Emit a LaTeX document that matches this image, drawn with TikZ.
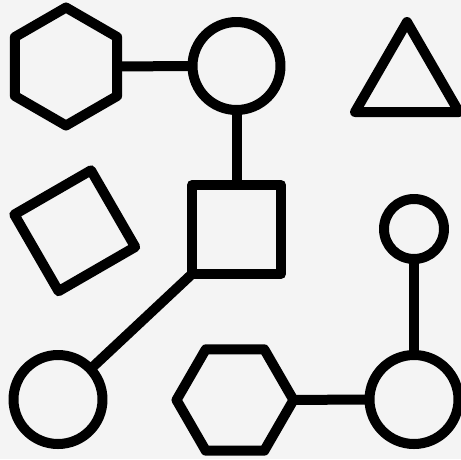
\documentclass[tikz,border=0pt]{standalone}
\usetikzlibrary{shapes.geometric}
\definecolor{bg}{HTML}{F4F4F4}
\begin{document}
\begin{tikzpicture}[x=1pt,y=-1pt,
  shp/.style={draw=black,line width=10pt,line join=round,inner sep=0pt,outer sep=0pt},
  ring/.style={shp,circle,minimum size=#1},
  box/.style={shp,rectangle,minimum size=#1},
  poly/.style={shp,regular polygon,regular polygon sides=#1},
  link/.style={draw=black,line width=10pt}]
\fill[bg] (0,0) rectangle (461,459);
\useasboundingbox (0,0) rectangle (461,459);
\node[poly=6,regular polygon rotate=30,minimum size=118pt] (hexA) at (66,66.5) {};
\node[ring=88pt] (circA) at (236.5,66) {};
\node[box=89pt] (sqA) at (236.5,229.5) {};
\node[poly=3,minimum size=120pt] (tri) at (407,82) {};
\node[box=88.5pt,rotate=30] (sqB) at (74.75,230.75) {};
\node[ring=89pt] (circB) at (58,399.5) {};
\node[poly=6,minimum size=117pt] (hexB) at (235,400) {};
\node[ring=89pt] (circC) at (414,399.5) {};
\node[ring=60pt] (circD) at (414,229) {};
\draw[link] (hexA) -- (circA);
\draw[link] (circA) -- (sqA);
\draw[link] (sqA.south west) -- (circB);
\draw[link] (hexB) -- (circC);
\draw[link] (circD) -- (circC);
\end{tikzpicture}
\end{document}
